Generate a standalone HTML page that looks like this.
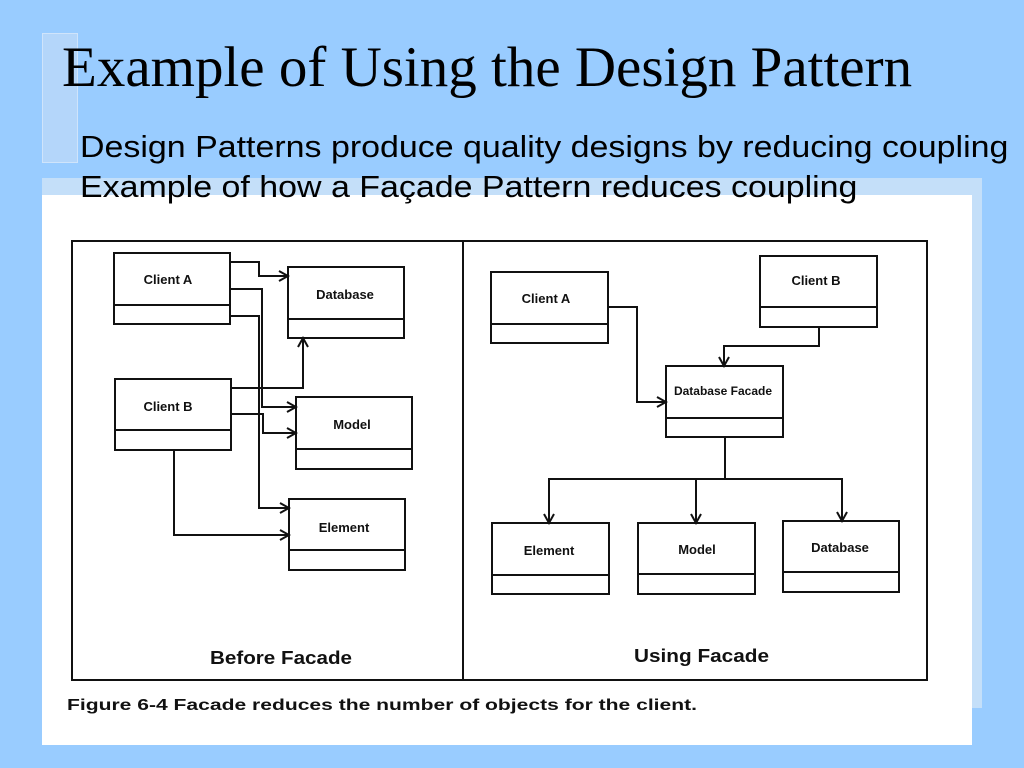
<!DOCTYPE html>
<html><head><style>
body{margin:0;width:1024px;height:768px;background:#99ccff;position:relative;overflow:hidden;font-family:"Liberation Sans",sans-serif}
.a{position:absolute}
.b{transform-origin:0 0;transform:scaleX(1.095);white-space:nowrap}
</style></head><body>
<div class="a" style="left:42px;top:33px;width:34px;height:128px;background:#b4d6fa;border:1px solid #cfe4fb"></div>
<div class="a" style="left:42px;top:178px;width:940px;height:530px;background:#c4dff9"></div>
<div class="a" style="left:42px;top:195px;width:930px;height:550px;background:#fff"></div>
<div class="a" style="left:62px;top:36px;font-family:'Liberation Serif',serif;font-size:57px;line-height:64px;color:#000;white-space:nowrap">Example of Using the Design Pattern</div>
<div class="a b" style="left:80px;top:129px;font-size:31px;line-height:36px;color:#000">Design Patterns produce quality designs by reducing coupling</div>
<div class="a b" style="left:80px;top:169px;font-size:31px;line-height:36px;color:#000">Example of how a Façade Pattern reduces coupling</div>
<svg class="a" style="left:0;top:0" width="1024" height="768" viewBox="0 0 1024 768">
<defs><marker id="ar" markerWidth="12" markerHeight="12" refX="10" refY="6" orient="auto" markerUnits="userSpaceOnUse"><path d="M1,1 L10,6 L1,11" fill="none" stroke="#111" stroke-width="2"/></marker></defs>
<g fill="none" stroke="#111" stroke-width="2">
<rect x="72" y="241" width="855" height="439"/>
<line x1="463" y1="241" x2="463" y2="680"/>
<rect x="114" y="253" width="116" height="71"/><line x1="114" y1="305" x2="230" y2="305"/>
<rect x="288" y="267" width="116" height="71"/><line x1="288" y1="319" x2="404" y2="319"/>
<rect x="115" y="379" width="116" height="71"/><line x1="115" y1="430" x2="231" y2="430"/>
<rect x="296" y="397" width="116" height="72"/><line x1="296" y1="449" x2="412" y2="449"/>
<rect x="289" y="499" width="116" height="71"/><line x1="289" y1="550" x2="405" y2="550"/>
<polyline points="230,262 259,262 259,276 288,276" marker-end="url(#ar)"/>
<polyline points="230,289 262,289 262,407 296,407" marker-end="url(#ar)"/>
<polyline points="230,316 259,316 259,508 289,508" marker-end="url(#ar)"/>
<polyline points="231,388 303,388 303,338" marker-end="url(#ar)"/>
<polyline points="231,414 263,414 263,433 296,433" marker-end="url(#ar)"/>
<polyline points="174,450 174,535 289,535" marker-end="url(#ar)"/>
<rect x="491" y="272" width="117" height="71"/><line x1="491" y1="324" x2="608" y2="324"/>
<rect x="760" y="256" width="117" height="71"/><line x1="760" y1="307" x2="877" y2="307"/>
<rect x="666" y="366" width="117" height="71"/><line x1="666" y1="418" x2="783" y2="418"/>
<rect x="492" y="523" width="117" height="71"/><line x1="492" y1="575" x2="609" y2="575"/>
<rect x="638" y="523" width="117" height="71"/><line x1="638" y1="574" x2="755" y2="574"/>
<rect x="783" y="521" width="116" height="71"/><line x1="783" y1="572" x2="899" y2="572"/>
<polyline points="608,307 637,307 637,402 666,402" marker-end="url(#ar)"/>
<polyline points="819,327 819,346 724,346 724,366" marker-end="url(#ar)"/>
<polyline points="725,437 725,479"/>
<polyline points="549,523 549,479 842,479 842,521" marker-end="url(#ar)"/>
<line x1="549" y1="479" x2="549" y2="523" marker-end="url(#ar)"/>
<line x1="696" y1="479" x2="696" y2="523" marker-end="url(#ar)"/>
</g>
<g font-family="Liberation Sans,sans-serif" font-weight="bold" font-size="13" fill="#111" text-anchor="middle">
<text x="168" y="284">Client A</text>
<text x="345" y="299">Database</text>
<text x="168" y="411">Client B</text>
<text x="352" y="429">Model</text>
<text x="344" y="532">Element</text>
<text x="546" y="303">Client A</text>
<text x="816" y="285">Client B</text>
<text x="723" y="395" font-size="12">Database Facade</text>
<text x="549" y="555">Element</text>
<text x="697" y="554">Model</text>
<text x="840" y="552">Database</text>
<text x="210" y="664" font-size="18" text-anchor="start" textLength="142" lengthAdjust="spacingAndGlyphs">Before Facade</text>
<text x="634" y="662" font-size="18" text-anchor="start" textLength="135" lengthAdjust="spacingAndGlyphs">Using Facade</text>
<text x="67" y="710" font-size="16" text-anchor="start" textLength="630" lengthAdjust="spacingAndGlyphs">Figure 6-4   Facade reduces the number of objects for the client.</text>
</g>
</svg>
</body></html>
